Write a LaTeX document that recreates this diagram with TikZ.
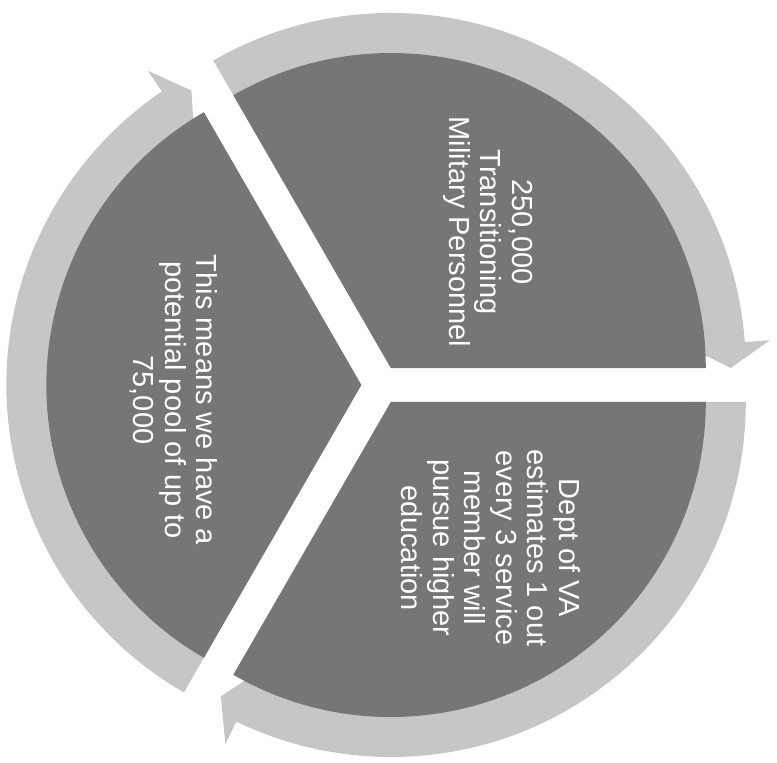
\documentclass[tikz,border=0pt]{standalone}
\usepackage{fontspec}
\setmainfont{Liberation Sans}
\usepackage{tikz}
\usetikzlibrary{calc}
\definecolor{sectorgray}{RGB}{118,118,118}
\definecolor{ringgray}{RGB}{198,198,198}
\tikzset{
  sector/.style={fill=sectorgray, draw=none},
  ringarrow/.style={fill=ringgray, draw=none},
  celltext/.style={
    text=white, align=center, rotate=-90, inner sep=0pt,
    font=\fontsize{8.25}{8.96}\selectfont
  },
}

\begin{document}
\begin{tikzpicture}
  \useasboundingbox (-3.81,-3.77) rectangle (3.96,3.85);

  % --- Apex of each segment, pushed out from the centre ---
  \coordinate (topapex) at (60:0.196);
  \coordinate (leftapex) at (180:0.196);
  \coordinate (botapex) at (-60:0.196);

  % --- Outer arrows, running clockwise ---
  \fill[ringarrow] ($(topapex)+(120:2.97)$) -- ($(topapex)+(120:3.55)$)
        arc[start angle=120, end angle=4.2, radius=3.55]
        -- ($(topapex)+(4.2:3.80)$) -- ($(topapex)+(0:3.40)$) -- ($(topapex)+(4.2:2.97)$)
        arc[start angle=4.2, end angle=120, radius=2.97] -- cycle;
  \fill[ringarrow] ($(leftapex)+(240:2.97)$) -- ($(leftapex)+(240:3.55)$)
        arc[start angle=240, end angle=124.2, radius=3.55]
        -- ($(leftapex)+(124.2:3.80)$) -- ($(leftapex)+(120:3.40)$) -- ($(leftapex)+(124.2:2.97)$)
        arc[start angle=124.2, end angle=240, radius=2.97] -- cycle;
  \fill[ringarrow] ($(botapex)+(0:2.97)$) -- ($(botapex)+(0:3.55)$)
        arc[start angle=0, end angle=-115.8, radius=3.55]
        -- ($(botapex)+(-115.8:3.80)$) -- ($(botapex)+(-120:3.40)$) -- ($(botapex)+(-115.8:2.97)$)
        arc[start angle=-115.8, end angle=0, radius=2.97] -- cycle;

  % --- Pie segments ---
  \fill[sector] (topapex) -- ++(0:3.15) arc[start angle=0, end angle=120, radius=3.15] -- cycle;
  \fill[sector] (leftapex) -- ++(120:3.15) arc[start angle=120, end angle=240, radius=3.15] -- cycle;
  \fill[sector] (botapex) -- ++(-120:3.15) arc[start angle=-120, end angle=0, radius=3.15] -- cycle;

  % --- Segment texts ---
  \node[celltext] (personnel) at (1.07,1.53) {250,000\\Transitioning\\Military Personnel};
  \node[celltext] (estimate) at (1.10,-1.63)
        {Dept of VA\\estimates 1 out\\every 3 service\\member will\\pursue higher\\education};
  \node[celltext] (pool) at (-2.07,-0.15) {This means we have a\\potential pool of up to\\75,000};

\end{tikzpicture}
\end{document}
